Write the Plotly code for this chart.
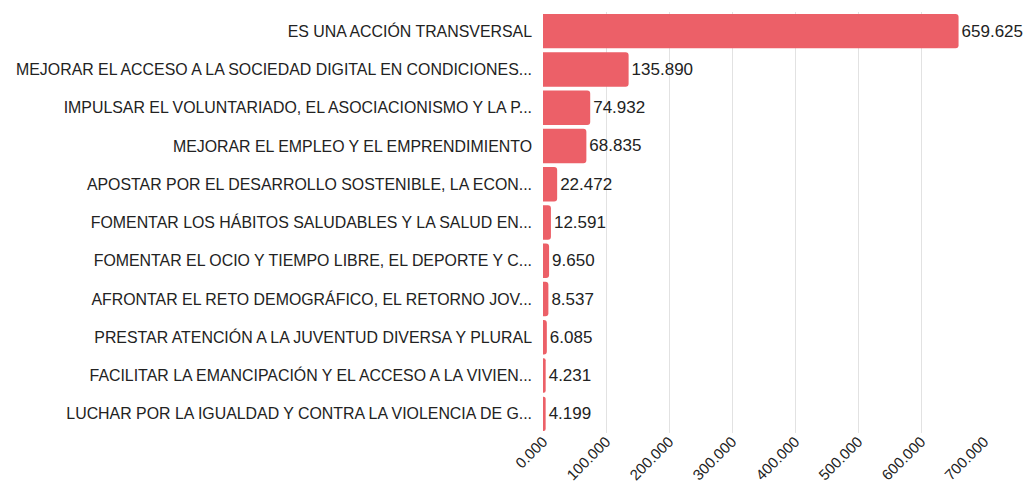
import plotly.graph_objects as go

categories = [
    "ES UNA ACCIÓN TRANSVERSAL",
    "MEJORAR EL ACCESO A LA SOCIEDAD DIGITAL EN CONDICIONES...",
    "IMPULSAR EL VOLUNTARIADO, EL ASOCIACIONISMO Y LA P...",
    "MEJORAR EL EMPLEO Y EL EMPRENDIMIENTO",
    "APOSTAR POR EL DESARROLLO SOSTENIBLE, LA ECON...",
    "FOMENTAR LOS HÁBITOS SALUDABLES Y LA SALUD EN...",
    "FOMENTAR EL OCIO Y TIEMPO LIBRE, EL DEPORTE Y C...",
    "AFRONTAR EL RETO DEMOGRÁFICO, EL RETORNO JOV...",
    "PRESTAR ATENCIÓN A LA JUVENTUD DIVERSA Y PLURAL",
    "FACILITAR LA EMANCIPACIÓN Y EL ACCESO A LA VIVIEN...",
    "LUCHAR POR LA IGUALDAD Y CONTRA LA VIOLENCIA DE G...",
]
values = [659.625, 135.890, 74.932, 68.835, 22.472, 12.591, 9.650, 8.537, 6.085, 4.231, 4.199]
tick_vals = [0, 100, 200, 300, 400, 500, 600, 700]
tick_text = ["0.000", "100.000", "200.000", "300.000", "400.000", "500.000", "600.000", "700.000"]
labels = [f"{v:.3f}" for v in values]

font_family = "Liberation Sans, Arial, Helvetica, sans-serif"

fig = go.Figure(go.Bar(
    x=values,
    y=categories,
    orientation="h",
    text=labels,
    textposition="outside",
    textfont=dict(family=font_family, size=17, color="#222222"),
    cliponaxis=False,
    marker=dict(color="#EC6068", cornerradius=3, line=dict(width=0)),
))

fig.update_layout(
    width=1015,
    height=479,
    paper_bgcolor="white",
    plot_bgcolor="white",
    margin=dict(l=535, r=39, t=4, b=54),
    bargap=0.1,
    showlegend=False,
    font=dict(family=font_family, size=16, color="#222222"),
    xaxis=dict(
        range=[0, 700],
        tickvals=tick_vals,
        ticktext=tick_text,
        tickangle=-45,
        showgrid=True,
        gridcolor="#e2e2e2",
        gridwidth=1,
        zeroline=False,
        showline=False,
        ticklabelstandoff=-4,
        tickfont=dict(size=15, color="#222222"),
        automargin=False,
    ),
    yaxis=dict(
        autorange="reversed",
        showgrid=False,
        ticks="",
        ticklabelstandoff=10,
        tickfont=dict(size=15.9, color="#222222"),
        automargin=False,
    ),
)

fig.write_html("out.html")
